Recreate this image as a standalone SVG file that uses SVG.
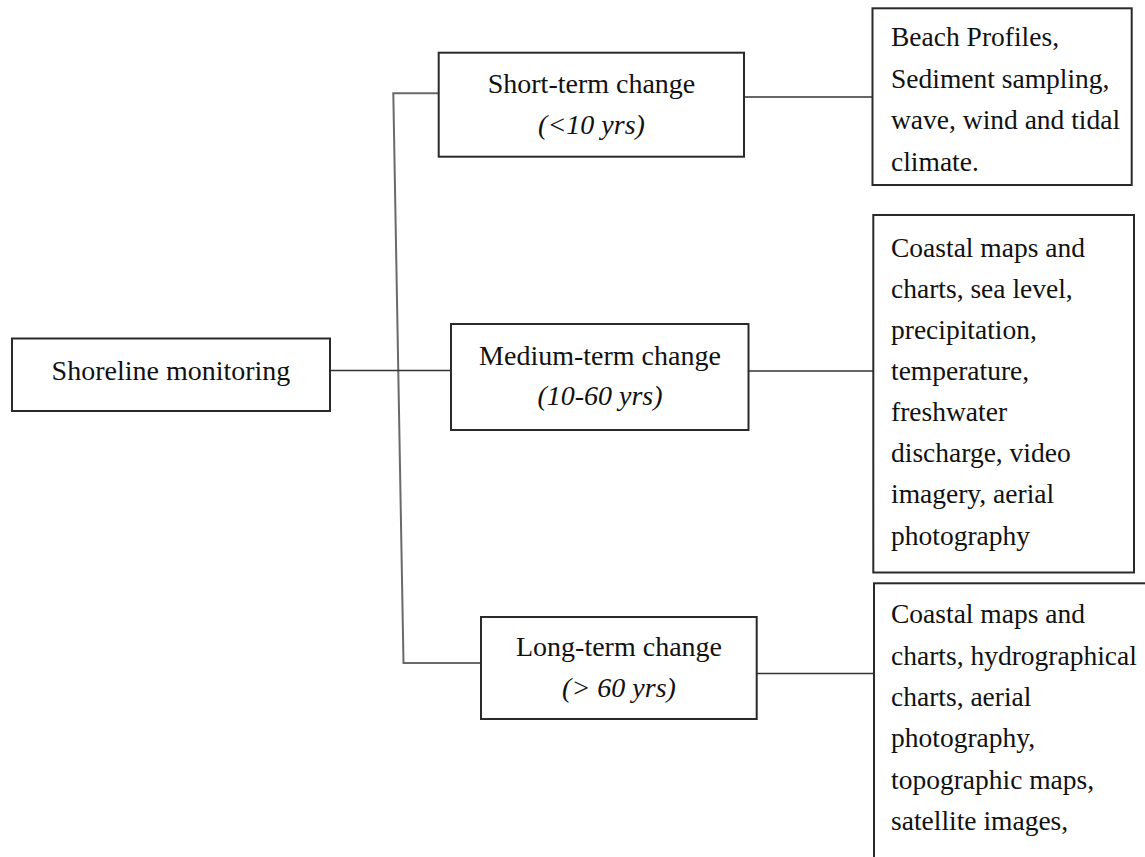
<svg xmlns="http://www.w3.org/2000/svg" width="1145" height="857" viewBox="0 0 1145 857">
<style>
.box{fill:#fff;stroke:#2a2a2a;stroke-width:2}
.t{font-family:"Liberation Serif","Times New Roman",serif;font-size:28px;fill:#111}
.c{text-anchor:middle}
.i{font-style:italic}
.r{font-family:"Liberation Serif","Times New Roman",serif;font-size:27.5px;fill:#111}
.ln{fill:none;stroke:#333;stroke-width:1.6}
.lg{fill:none;stroke:#6a6a6a;stroke-width:2}
</style>
<rect width="1145" height="857" fill="#fff"/>
<g id="connectors">
<polyline class="lg" points="438.7,93.3 393.3,93.3 403.5,663 481,663"/>
<line class="ln" x1="330" y1="370.5" x2="451" y2="370.5"/>
<line class="ln" x1="744" y1="97" x2="873" y2="97"/>
<line class="ln" x1="748" y1="371" x2="873" y2="371"/>
<line class="ln" x1="756.7" y1="673.5" x2="874" y2="673.5"/>
</g>
<g id="shoreline">
<rect class="box" x="12" y="338.5" width="318" height="72.5"/>
<text class="t c" x="171" y="380">Shoreline monitoring</text>
</g>
<g id="short-term">
<rect class="box" x="438.7" y="52.7" width="305.3" height="104"/>
<text class="t c" x="591.5" y="93">Short-term change</text>
<text class="t c i" x="591.5" y="134">(&lt;10 yrs)</text>
</g>
<g id="medium-term">
<rect class="box" x="451" y="324" width="297.5" height="106"/>
<text class="t c" x="600" y="365">Medium-term change</text>
<text class="t c i" x="600" y="405">(10-60 yrs)</text>
</g>
<g id="long-term">
<rect class="box" x="481" y="617" width="275.7" height="102"/>
<text class="t c" x="619" y="656">Long-term change</text>
<text class="t c i" x="619" y="697">(&gt; 60 yrs)</text>
</g>
<g id="short-data">
<rect class="box" x="872.5" y="8.3" width="259.2" height="176.7"/>
<text class="r" x="891" y="46">Beach Profiles,</text>
<text class="r" x="891" y="87.5">Sediment sampling,</text>
<text class="r" x="891" y="129">wave, wind and tidal</text>
<text class="r" x="891" y="170.5">climate.</text>
</g>
<g id="medium-data">
<rect class="box" x="873.3" y="215" width="260.7" height="357.5"/>
<text class="r" x="891" y="257">Coastal maps and</text>
<text class="r" x="891" y="298">charts, sea level,</text>
<text class="r" x="891" y="339">precipitation,</text>
<text class="r" x="891" y="380">temperature,</text>
<text class="r" x="891" y="421">freshwater</text>
<text class="r" x="891" y="462">discharge, video</text>
<text class="r" x="891" y="503">imagery, aerial</text>
<text class="r" x="891" y="545">photography</text>
</g>
<g id="long-data">
<rect class="box" x="874" y="583.3" width="290" height="300"/>
<text class="r" x="891" y="623">Coastal maps and</text>
<text class="r" x="891" y="664.5">charts, hydrographical</text>
<text class="r" x="891" y="706">charts, aerial</text>
<text class="r" x="891" y="747">photography,</text>
<text class="r" x="891" y="788.5">topographic maps,</text>
<text class="r" x="891" y="829.5">satellite images,</text>
</g>
</svg>
